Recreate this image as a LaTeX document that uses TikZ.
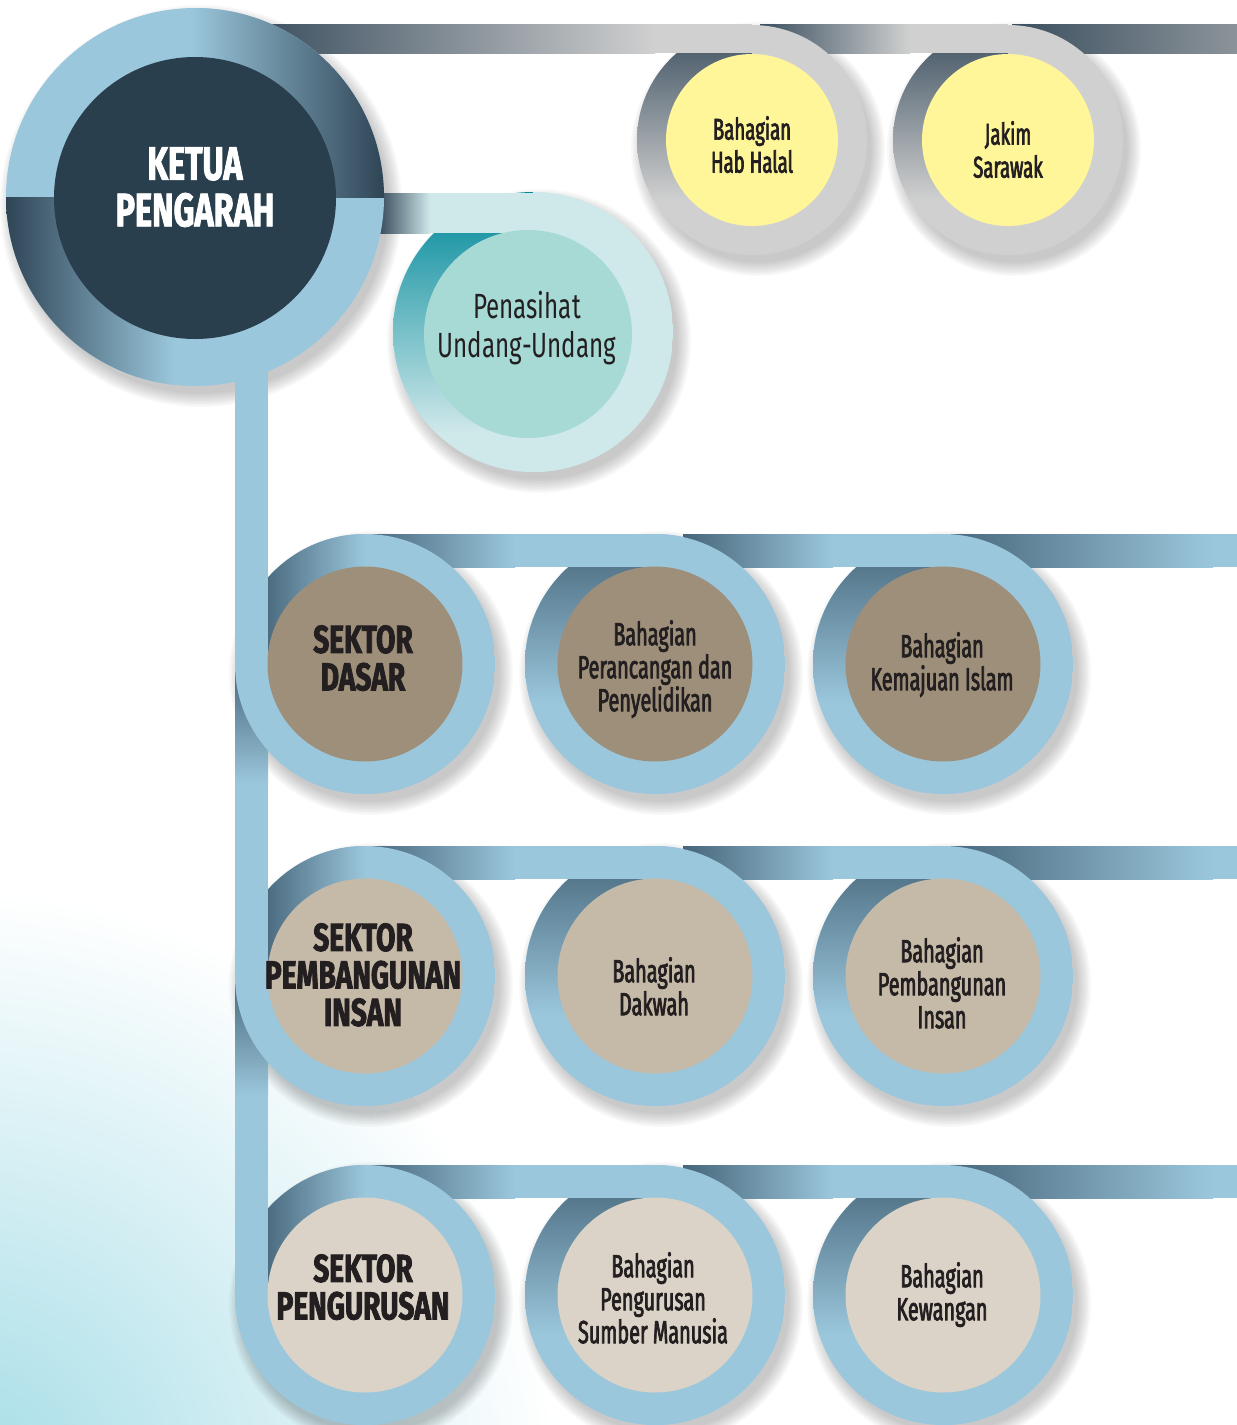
\documentclass[tikz,border=0pt]{standalone}
\usepackage{fontspec}
\usetikzlibrary{calc}
\setmainfont{Fira Sans}
\newfontfamily\condP[FakeStretch=0.69]{Fira Sans}
\newfontfamily\condR[FakeStretch=0.62,FakeBold=2.2]{Fira Sans}
\newfontfamily\condB[FakeStretch=0.72,FakeBold=2]{Fira Sans}
\newfontfamily\condK[FakeStretch=0.69,FakeBold=1.8]{Fira Sans}

\definecolor{slate}{HTML}{3B4F5F}
\definecolor{slateMid}{HTML}{8C949A}
\definecolor{ltgray}{HTML}{D0D0D0}
\definecolor{ltblue}{HTML}{9BC7DC}
\definecolor{blueDk}{HTML}{46657A}
\definecolor{ketDk}{HTML}{2F4556}
\definecolor{navy}{HTML}{2A3F4E}
\definecolor{yel}{HTML}{FFF599}
\definecolor{penLt}{HTML}{CFE8EA}
\definecolor{penIn}{HTML}{A7DAD5}
\definecolor{tealDk}{HTML}{00899A}
\definecolor{brownA}{HTML}{9E8F7B}
\definecolor{brownB}{HTML}{C5B9A7}
\definecolor{brownC}{HTML}{DBD3C7}
\definecolor{ink}{HTML}{231F20}
\definecolor{wash}{HTML}{A3DCE6}

% soft drop shadow
\newcommand{\softshadow}[2]{%
  \foreach \k in {0,...,9}{\fill[black,opacity=0.024] ($(#1)+(6,9)$) circle ({#2+12-1.5*\k});}}
% left half with vertical gradient (dark top)
\newcommand{\halfleftV}[5]{%
  \begin{scope}
    \clip (#1) circle (#2);
    \fill[#4] ($(#1)+(-#2,-#2)$) rectangle ($(#1)+(#2,#2)$);
    \shade[top color=#3,bottom color=#4] ($(#1)+(-#2,-#2)$) rectangle ($(#1)+(0.5,#5)$);
  \end{scope}}
\newcommand{\halfright}[3]{%
  \begin{scope}
    \clip (#1) circle (#2);
    \fill[#3] ($(#1)+(0,-#2)$) rectangle ($(#1)+(#2,#2)$);
  \end{scope}}
% sector ring: upper-left quadrant horizontal gradient
\newcommand{\secUL}[4]{%
  \begin{scope}
    \clip (#1) circle (#2);
    \fill[#4] ($(#1)+(-#2,-#2)$) rectangle ($(#1)+(#2,#2)$);
    \shade[left color=#3,right color=#4] ($(#1)+(-#2+25,-#2)$) rectangle ($(#1)+(0.5,0.5)$);
    \fill[#3] ($(#1)+(-#2,-#2)$) rectangle ($(#1)+(-#2+25.5,0.5)$);
  \end{scope}}
\newcommand{\secRest}[3]{%
  \begin{scope}
    \clip (#1) circle (#2);
    \fill[#3] ($(#1)+(-#2,0)$) rectangle ($(#1)+(#2,#2)$);
    \fill[#3] ($(#1)+(0,-#2)$) rectangle ($(#1)+(#2,0.5)$);
  \end{scope}}
% horizontal connector bar: from, to, top, bottom, dark, light, gradient length
\newcommand{\barH}[7]{%
  \fill[#6] (#1 |- #3) rectangle (#2 |- #4);
  \shade[left color=#5,right color=#6] (#1 |- #3) rectangle ($(#1 |- #4)+(#7,0)$);}
% vertical connector bar: from, to, left, right, dark, light, gradient length
\newcommand{\barV}[7]{%
  \fill[#6] (#3 |- #1) rectangle (#4 |- #2);
  \shade[top color=#5,bottom color=#6] (#3 |- #1) rectangle ($(#4 |- #1)+(0,#7)$);}

\tikzset{
  disc/.style={circle,inner sep=0pt,draw=none},
  lbl/.style={anchor=north,align=center,inner sep=0pt,text=ink},
  fKetua/.style={font=\condK\bfseries\fontsize{47}{46.5}\selectfont},
  fHab/.style={font=\condR\fontsize{30}{33}\selectfont},
  fPen/.style={font=\condP\fontsize{35}{39}\selectfont},
  fSec/.style={font=\condB\bfseries\fontsize{39}{37.5}\selectfont},
  fRow/.style={font=\condR\fontsize{32}{33}\selectfont},
}

\begin{document}
\begin{tikzpicture}[x=1pt,y=-1pt]
\useasboundingbox (0,0) rectangle (1237,1425);

% ---------- coordinates ----------
\coordinate (K) at (195,197);
\coordinate (hab) at (752,140);
\coordinate (jak) at (1008,140);
\coordinate (pen) at (533,332);
\coordinate (penI) at (528,334);
\coordinate (s1) at (365,664);  \coordinate (a1) at (655,664);  \coordinate (b1) at (943,664);
\coordinate (s2) at (365,976);  \coordinate (a2) at (655,976);  \coordinate (b2) at (943,976);
\coordinate (s3) at (365,1295); \coordinate (a3) at (655,1295); \coordinate (b3) at (943,1295);
\coordinate (a1s) at (683,664); \coordinate (a2s) at (683,976); \coordinate (a3s) at (683,1295);
\coordinate (edgeR) at (1237,0);
\coordinate (tbT) at (0,24);   \coordinate (tbB) at (0,53);
\coordinate (pbT) at (0,193);  \coordinate (pbB) at (0,233);
\coordinate (r1T) at (0,534);  \coordinate (r1B) at (0,567);
\coordinate (r2T) at (0,846);  \coordinate (r2B) at (0,879);
\coordinate (r3T) at (0,1165); \coordinate (r3B) at (0,1198);
\coordinate (vL) at (235,0);   \coordinate (vR) at (268,0);
\coordinate (kS) at (255,197);
\coordinate (pS) at (380,197);
\coordinate (hubS) at (760,140);
\coordinate (jakS) at (1012,140);

% ---------- watercolour wash ----------
\begin{scope}
  \clip (0,700) rectangle (1237,1425);
  \shade[inner color=wash,outer color=white] (-40,1490) circle (600);
\end{scope}

% ---------- shadows ----------
\softshadow{K}{189}
\softshadow{hab}{115}
\softshadow{jak}{115}
\softshadow{pen}{140}
\foreach \c in {s1,a1,b1,s2,a2,b2,s3,a3,b3}{\softshadow{\c}{130}}

% ---------- lower ring parts ----------
\halfleftV{hab}{115}{slate}{ltgray}{60}
\halfleftV{jak}{115}{slate}{ltgray}{60}
\halfleftV{pen}{140}{tealDk}{penLt}{100}
\secUL{s1}{130}{blueDk}{ltblue}
\secUL{s2}{130}{blueDk}{ltblue}
\secUL{s3}{130}{blueDk}{ltblue}
\foreach \c in {a1,b1,a2,b2,a3,b3}{\halfleftV{\c}{130}{blueDk}{ltblue}{40}}

% ---------- connector bars ----------
% top grey line
\fill[slate] (K |- tbT) rectangle (kS |- tbB);
\barH{kS}{hab}{tbT}{tbB}{slate}{ltgray}{400}
\barH{hubS}{jak}{tbT}{tbB}{slate}{ltgray}{150}
\barH{jakS}{edgeR}{tbT}{tbB}{slate}{slateMid}{225}
% to Penasihat
\fill[slate] (K |- pbT) rectangle (pS |- pbB);
\barH{pS}{pen}{pbT}{pbB}{slate}{penLt}{50}
% vertical spine
\fill[ltblue] (vL |- K) rectangle (vR |- s1);
\barV{s1}{s2}{vL}{vR}{blueDk}{ltblue}{120}
\barV{s2}{s3}{vL}{vR}{blueDk}{ltblue}{120}
% rows
\barH{s1}{a1}{r1T}{r1B}{blueDk}{ltblue}{150}
\barH{a1s}{b1}{r1T}{r1B}{blueDk}{ltblue}{150}
\barH{b1}{edgeR}{r1T}{r1B}{blueDk}{ltblue}{270}
\barH{s2}{a2}{r2T}{r2B}{blueDk}{ltblue}{150}
\barH{a2s}{b2}{r2T}{r2B}{blueDk}{ltblue}{150}
\barH{b2}{edgeR}{r2T}{r2B}{blueDk}{ltblue}{270}
\barH{s3}{a3}{r3T}{r3B}{blueDk}{ltblue}{150}
\barH{a3s}{b3}{r3T}{r3B}{blueDk}{ltblue}{150}
\barH{b3}{edgeR}{r3T}{r3B}{blueDk}{ltblue}{270}

% ---------- KETUA ring ----------
\begin{scope}
  \clip (K) circle (189);
  \fill[ltblue] ($(K)+(-189,-189)$) rectangle ($(K)+(189,189)$);
  \shade[left color=ltblue,right color=ketDk] ($(K)+(-5,-189)$) rectangle ($(K)+(189,0.5)$);
  \shade[left color=ketDk,right color=ltblue] ($(K)+(-189,0)$) rectangle ($(K)+(-20,189)$);
\end{scope}

% ---------- upper ring parts ----------
\halfright{hab}{115}{ltgray}
\halfright{jak}{115}{ltgray}
\halfright{pen}{140}{penLt}
\secRest{s1}{130}{ltblue}
\secRest{s2}{130}{ltblue}
\secRest{s3}{130}{ltblue}
\foreach \c in {a1,b1,a2,b2,a3,b3}{\halfright{\c}{130}{ltblue}}

% ---------- inner discs ----------
\node[disc,fill=navy,minimum size=282pt] (ketuaIn) at ($(K)+(0,1)$) {};
\node[disc,fill=yel,minimum size=172pt] (habIn) at (hab) {};
\node[disc,fill=yel,minimum size=172pt] (jakIn) at (jak) {};
\node[disc,fill=penIn,minimum size=208pt] (penIn) at (penI) {};
\node[disc,fill=brownA,minimum size=195pt] (s1In) at (s1) {};
\node[disc,fill=brownA,minimum size=195pt] (a1In) at (a1) {};
\node[disc,fill=brownA,minimum size=195pt] (b1In) at (b1) {};
\node[disc,fill=brownB,minimum size=195pt] (s2In) at (s2) {};
\node[disc,fill=brownB,minimum size=195pt] (a2In) at (a2) {};
\node[disc,fill=brownB,minimum size=195pt] (b2In) at (b2) {};
\node[disc,fill=brownC,minimum size=195pt] (s3In) at (s3) {};
\node[disc,fill=brownC,minimum size=195pt] (a3In) at (a3) {};
\node[disc,fill=brownC,minimum size=195pt] (b3In) at (b3) {};

% ---------- labels ----------
\node[lbl,fKetua,text=white] (ketuaT) at (195,147) {KETUA\\PENGARAH};
\node[lbl,fHab] (habT) at (752,116) {Bahagian\\Hab Halal};
\node[lbl,fHab] (jakT) at (1008,121) {Jakim\\Sarawak};
\node[lbl,fPen] (penT) at (527,291) {Penasihat\\Undang-Undang};
\node[lbl,fSec] (s1T) at (363,625) {SEKTOR\\DASAR};
\node[lbl,fRow] (a1T) at (655,620) {Bahagian\\Perancangan dan\\Penyelidikan};
\node[lbl,fRow] (b1T) at (942,632) {Bahagian\\Kemajuan Islam};
\node[lbl,fSec] (s2T) at (363,923) {SEKTOR\\PEMBANGUNAN\\INSAN};
\node[lbl,fRow] (a2T) at (654,957) {Bahagian\\Dakwah};
\node[lbl,fRow] (b2T) at (942,937) {Bahagian\\Pembangunan\\Insan};
\node[lbl,fSec] (s3T) at (363,1254) {SEKTOR\\PENGURUSAN};
\node[lbl,fRow] (a3T) at (653,1252) {Bahagian\\Pengurusan\\Sumber Manusia};
\node[lbl,fRow] (b3T) at (942,1262) {Bahagian\\Kewangan};
\end{tikzpicture}
\end{document}
